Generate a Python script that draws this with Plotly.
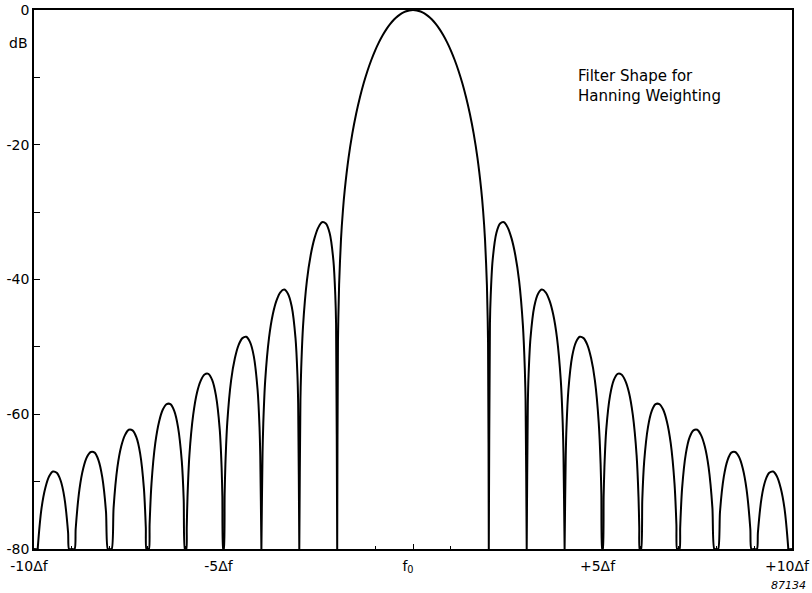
import plotly.graph_objects as go

# ---- data (right half; the response is symmetric about f0) ----
main_f = [0, 0.1, 0.2, 0.3, 0.4, 0.5, 0.6, 0.7, 0.8, 0.9, 1.0, 1.1, 1.2, 1.3, 1.4,
          1.5, 1.6, 1.7, 1.8, 1.85, 1.9, 1.95, 1.98, 2.0]
main_db = [0, -0.06, -0.23, -0.51, -0.91, -1.42, -2.07, -2.84, -3.75, -4.80, -6.02,
           -7.42, -9.01, -10.84, -12.95, -15.40, -18.32, -21.92, -26.67, -29.83,
           -34.05, -40.81, -49.23, -80]

lobe2_f = [2.0, 2.03, 2.05, 2.1, 2.2, 2.3, 2.4, 2.5, 2.6, 2.7, 2.8, 2.9, 2.95, 2.97, 3.0]
lobe2_db = [-80, -46.5, -42.4, -37.2, -33.1, -31.7, -31.5, -32.3, -33.9, -36.4, -40.2,
            -46.8, -53.2, -57.8, -80]

lobe3_f = [3.0, 3.03, 3.05, 3.1, 3.2, 3.3, 3.4, 3.5, 3.6, 3.7, 3.8, 3.9, 3.95, 3.97, 4.0]
lobe3_db = [-80, -58.4, -54.1, -48.7, -44.0, -42.1, -41.5, -41.9, -43.1, -45.2, -48.7,
            -55.0, -61.3, -65.8, -80]

lobe4_f = [4.0, 4.03, 4.05, 4.1, 4.2, 4.3, 4.4, 4.5, 4.6, 4.7, 4.8, 4.9, 4.95, 4.97, 4.99, 5.0]
lobe4_db = [-80, -66.2, -61.9, -56.4, -51.4, -49.3, -48.5, -48.7, -49.7, -51.7, -55.0,
            -61.2, -67.4, -71.9, -80, -80]

lobe5_f = [5.0, 5.01, 5.03, 5.05, 5.1, 5.2, 5.3, 5.4, 5.5, 5.6, 5.7, 5.8, 5.9, 5.95, 5.97, 5.98, 6.0]
lobe5_db = [-80, -80, -72.2, -67.9, -62.2, -57.2, -54.9, -54.0, -54.1, -55.0, -56.8,
            -60.1, -66.1, -72.3, -76.8, -80, -80]

lobe6_f = [6.0, 6.02, 6.05, 6.1, 6.2, 6.3, 6.4, 6.5, 6.6, 6.7, 6.8, 6.9, 6.95, 6.967, 7.0]
lobe6_db = [-80, -80, -72.7, -67.0, -61.9, -59.5, -58.5, -58.5, -59.3, -61.1, -64.3,
            -70.3, -76.4, -80, -80]

lobe7_f = [7.0, 7.034, 7.05, 7.1, 7.2, 7.3, 7.4, 7.5, 7.6, 7.7, 7.8, 7.9, 7.95, 8.0]
lobe7_db = [-80, -80, -76.8, -71.0, -65.8, -63.4, -62.4, -62.3, -63.1, -64.8, -67.9,
            -73.9, -80, -80]

lobe8_f = [8.0, 8.052, 8.1, 8.2, 8.3, 8.4, 8.5, 8.6, 8.7, 8.8, 8.9, 8.928, 9.0]
lobe8_db = [-80, -80, -74.5, -69.3, -66.8, -65.7, -65.6, -66.3, -68.0, -71.1, -77.0, -80, -80]

lobe9_f = [9.0, 9.075, 9.1, 9.2, 9.3, 9.4, 9.5, 9.6, 9.7, 9.8, 9.9, 9.902, 10.0]
lobe9_db = [-80, -80, -77.6, -72.3, -69.8, -68.7, -68.5, -69.2, -70.9, -73.9, -79.8, -80, -80]

x_tickvals = [-10, -5, 0, 5, 10]
x_ticktext = ["-10\u0394f", "-5\u0394f", "f<sub>0</sub>", "+5\u0394f", "+10\u0394f"]
y_tickvals = [0, -20, -40, -60, -80]
y_ticktext = ["0", "-20", "-40", "-60", "-80"]

# ---- assemble symmetric curve ----
right_f = main_f + lobe2_f + lobe3_f + lobe4_f + lobe5_f + lobe6_f + lobe7_f + lobe8_f + lobe9_f
right_db = main_db + lobe2_db + lobe3_db + lobe4_db + lobe5_db + lobe6_db + lobe7_db + lobe8_db + lobe9_db
x_all = [-f for f in reversed(right_f)] + right_f[1:]
y_all = list(reversed(right_db)) + right_db[1:]

FONT = "DejaVu Sans, Liberation Sans, Arial, sans-serif"

fig = go.Figure()
fig.add_trace(go.Scatter(x=x_all, y=y_all, mode="lines",
                         line=dict(color="black", width=2, shape="spline", smoothing=0.7),
                         cliponaxis=True, hoverinfo="skip", showlegend=False))

fig.update_layout(
    width=812, height=593,
    margin=dict(l=34, r=20, t=10, b=44, autoexpand=False),
    paper_bgcolor="white", plot_bgcolor="white",
    font=dict(family=FONT, size=14, color="black"),
    showlegend=False,
)
fig.update_xaxes(
    range=[-10, 10], showgrid=False, zeroline=False, automargin=False,
    showline=True, linecolor="black", linewidth=1.5, mirror=True,
    tickmode="array", tickvals=x_tickvals, ticktext=x_ticktext,
    ticks="inside", ticklen=5, tickcolor="black", tickwidth=1,
    ticklabelshift=-5, ticklabelstandoff=3,
    minor=dict(ticks="inside", dtick=1, ticklen=3, tickcolor="black", tickwidth=1),
    tickfont=dict(family=FONT, size=14, color="black"),
)
fig.update_yaxes(
    range=[-80, 0], showgrid=False, zeroline=False, automargin=False,
    showline=True, linecolor="black", linewidth=1.5, mirror=True,
    tickmode="array", tickvals=y_tickvals, ticktext=y_ticktext,
    ticks="inside", ticklen=6, tickcolor="black", tickwidth=1,
    minor=dict(ticks="inside", dtick=10, ticklen=6, tickcolor="black", tickwidth=1),
    tickfont=dict(family=FONT, size=14, color="black"),
)

fig.add_annotation(text="dB", xref="paper", yref="paper", x=-0.021, y=0.938,
                   xanchor="center", yanchor="middle",
                   showarrow=False, font=dict(family=FONT, size=14, color="black"))
fig.add_annotation(text="Filter Shape for<br>Hanning Weighting", xref="x", yref="y",
                   x=4.3, y=-8.2, xanchor="left", yanchor="top", align="left",
                   showarrow=False, font=dict(family=FONT, size=15, color="black"))
fig.add_annotation(text="<i>87134</i>", xref="paper", yref="paper", x=1.021, y=-0.067,
                   xanchor="right", yanchor="middle", showarrow=False,
                   font=dict(family=FONT, size=11, color="black"))

fig.write_html("out.html", config={"displayModeBar": False},
               post_script="document.body.style.margin='0px';document.body.style.padding='0px';")
